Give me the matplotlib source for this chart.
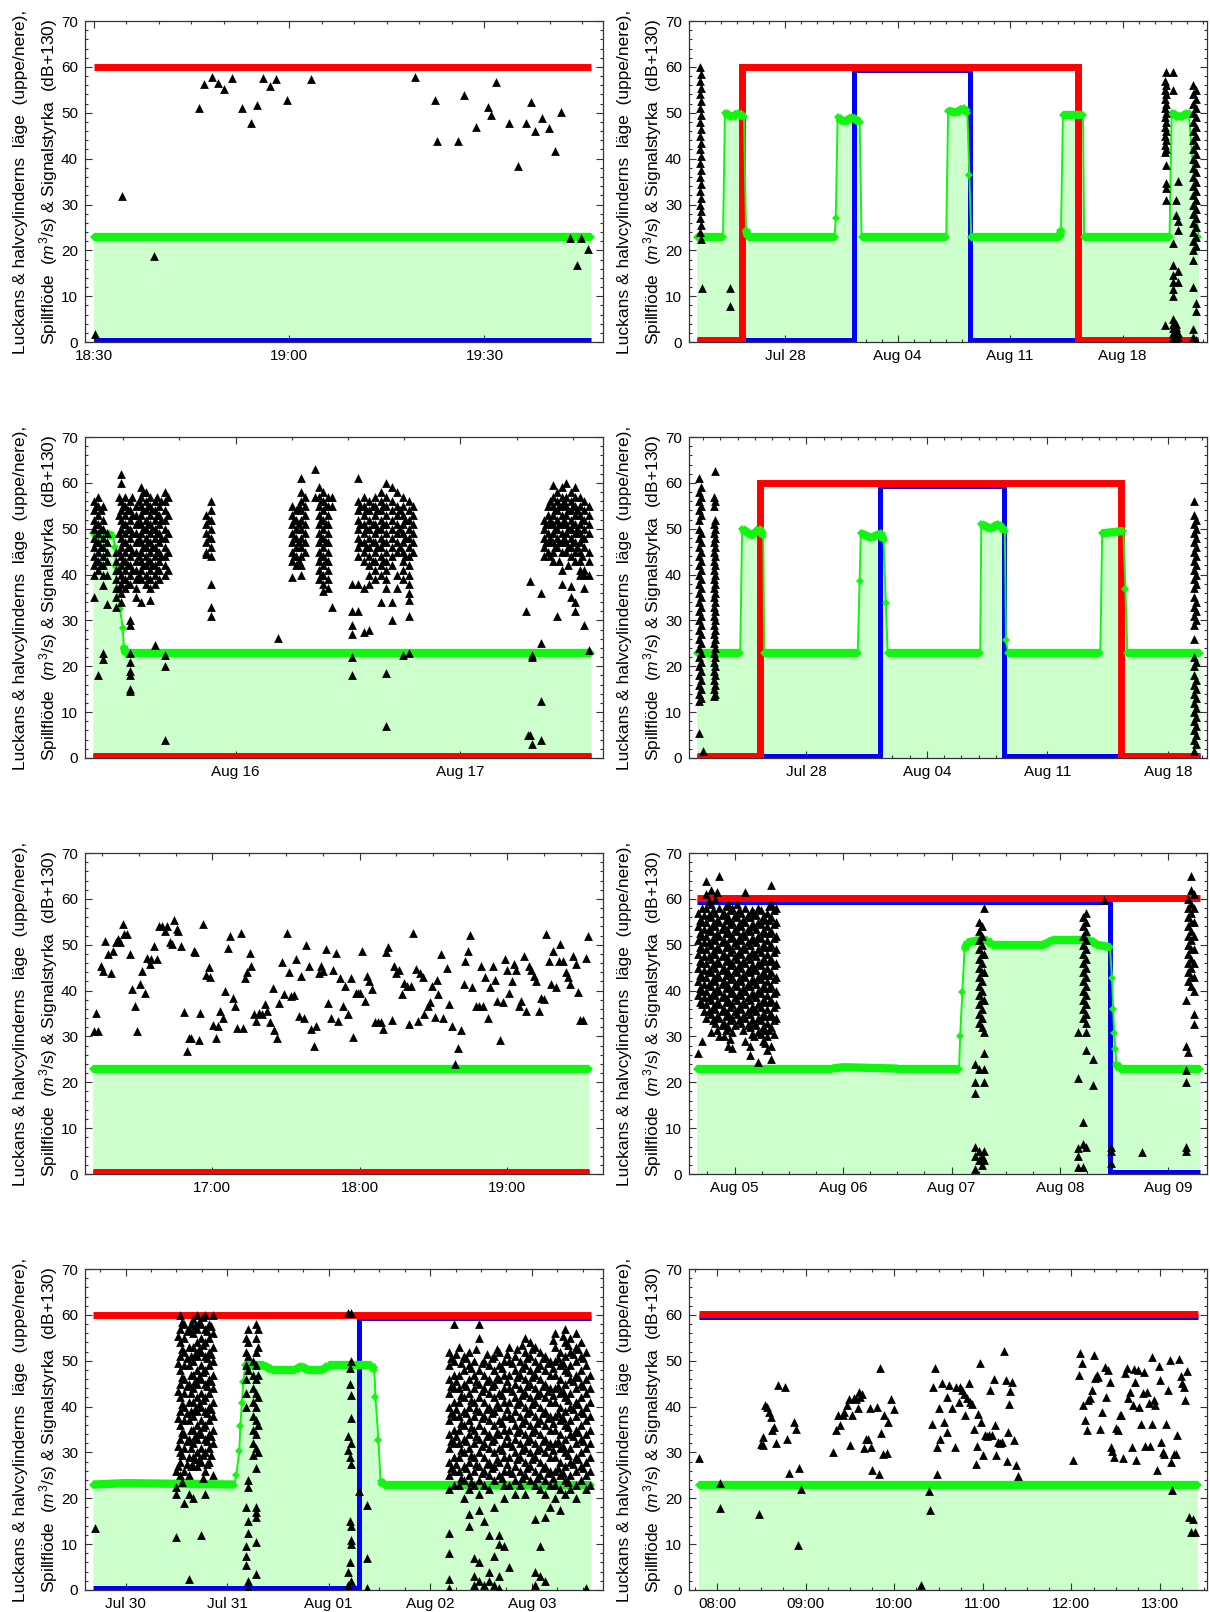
import matplotlib
matplotlib.use('Agg')
import matplotlib.pyplot as plt
from matplotlib.ticker import FixedLocator, MultipleLocator

plt.rcParams['font.family'] = ['Liberation Sans', 'DejaVu Sans']
plt.rcParams['mathtext.fontset'] = 'custom'
plt.rcParams['mathtext.rm'] = 'Liberation Sans'
plt.rcParams['mathtext.it'] = 'Liberation Sans:italic'

RED, BLUE, GREEN, FILL = '#ff0000', '#0000ff', '#11f511', '#ccffcc'
YLABEL = ('Luckans & halvcylinderns  läge  (uppe/nere),\n'
          'Spillflöde  ($m^3$/s) & Signalstyrka  (dB+130)')

# x units: time-of-day panels in minutes after the full hour of the start,
# date panels in days (Jul 28 = 28, Aug 04 = 35, ...)

# ---------------- panel 1 (18:30 - 19:48) ----------------
p1_ticks, p1_labels = [30, 60, 90], ['18:30', '19:00', '19:30']
p1_gate = ([30, 106.3], [60, 60])
p1_cyl = ([30, 106.3], [0.5, 0.5])
p1_flow = ([30, 106.3], [23, 23])
p1_sig = [(30.2, 1.7), (34.3, 31.8), (39.3, 18.8), (46.1, 51.1), (47.0, 56.2), (48.1, 57.8),
          (49.1, 56.5), (50.0, 55.2), (51.3, 57.6), (52.8, 51.0), (54.1, 47.7), (55.1, 51.8),
          (56.0, 57.6), (57.0, 55.8), (58.0, 57.3), (59.6, 52.9), (63.3, 57.3), (79.3, 57.8),
          (82.4, 52.9), (82.7, 43.8), (85.9, 43.8), (86.9, 53.9), (88.7, 46.9), (90.6, 51.3),
          (91.0, 49.6), (91.8, 56.8), (93.8, 47.8), (95.1, 38.4), (96.4, 47.8), (97.1, 52.3),
          (97.7, 46.1), (98.9, 48.8), (99.9, 46.7), (100.8, 41.6), (101.8, 50.2), (103.2, 22.7),
          (104.2, 16.8), (104.9, 22.7), (105.9, 20.4)]

# ---------------- panel 2 (Jul 22 - Aug 22) ----------------
p2_ticks, p2_labels = [28, 35, 42, 49], ['Jul 28', 'Aug 04', 'Aug 11', 'Aug 18']
p2_gate = ([22.48, 25.31, 25.31, 46.25, 46.25, 53.73], [0.5, 0.5, 60, 60, 0.5, 0.5])
p2_cyl = ([22.48, 32.27, 32.27, 39.53, 39.53, 53.73], [0.5, 0.5, 59.3, 59.3, 0.5, 0.5])
p2_flow = ([22.48, 24.12, 24.24, 24.71, 25.07, 25.43, 25.55, 25.67, 31.07, 31.14, 31.26, 31.67,
            32.15, 32.63, 32.75, 38.02, 38.14, 38.62, 39.10, 39.34, 39.46, 39.58, 45.10, 45.17,
            45.29, 46.54, 46.61, 51.93, 52.06, 52.53, 53.13, 53.73],
           [23, 23, 50, 49, 50, 49, 24.5, 23, 23, 27, 49, 48,
            49, 48, 23, 23, 50.5, 50, 51, 50, 36.5, 23, 23, 24.5,
            49.5, 49.5, 23, 23, 50, 49, 50, 23])
p2_sig_cols = [(22.66, [60, 57, 54, 51, 48, 45, 42, 39, 36, 33, 30, 27, 24]),
               (22.72, [58.5, 55.5, 52.5, 49.5, 46.5, 43.5, 40.5, 37.5, 34.5, 31.5, 28.5, 25.5, 22.5]),
               (22.80, [11.9]), (24.55, [11.9, 7.9]),
               (51.62, [57, 55, 53, 51, 49, 47, 45, 43, 41.5, 3.8]),
               (51.70, [58.9, 56, 54, 52, 50, 48, 46, 44, 42, 38.6, 34.6, 33.5, 31]),
               (52.17, [58.9, 55, 21.7, 16.9, 14.7, 13, 11.5, 10, 5, 4, 3, 2, 1, 0.5]),
               (52.30, [31, 27.8, 4, 3.2, 2.5, 1.5, 0.5]),
               (52.45, [35.2, 26.3, 24.5, 15.4, 13, 2, 1]),
               (53.40, [56, 54, 52, 50, 48, 46, 44, 42, 40, 38, 36, 34, 32, 30, 28, 26, 24, 22, 20, 18, 12, 2.8, 1]),
               (53.55, [55, 53, 51, 49, 47, 45, 43, 41, 39, 37, 35, 33, 31, 29, 27, 25, 23, 21, 8.6, 6.7, 0.5])]

# ---------------- panel 3 (Aug 15 - Aug 17) ----------------
p3_ticks, p3_labels = [47, 48], ['Aug 16', 'Aug 17']
p3_gate = ([46.365, 48.579], [0.5, 0.5])
p3_cyl = ([46.365, 48.579], [0.5, 0.5])
p3_flow = ([46.365, 46.392, 46.421, 46.455, 46.464, 46.467, 46.473, 46.486, 46.498, 46.503, 46.510, 48.579],
           [49, 48.5, 49, 48.4, 46.1, 41.7, 36.9, 32.5, 28.4, 24.3, 23, 23])
p3_sig_cols = [(46.37, [56, 54, 52, 50, 48, 46, 44, 42, 40, 35]),
               (46.38, [55, 51, 47, 43]),
               (46.39, [57, 55, 53, 51, 49, 47, 45, 43, 41, 18]),
               (46.40, [54, 50, 46, 42]),
               (46.41, [55, 52, 50, 48, 46, 44, 42, 40, 37.7, 23, 21.5]),
               (46.43, [49, 47, 45, 43, 40, 33.5]),
               (46.47, [45, 43, 41, 39, 37, 35, 33]),
               (46.48, [57, 53, 49, 45, 41, 37]),
               (46.49, [62, 60, 56, 54, 52, 50, 48, 46, 44, 42, 40, 38, 36, 34]),
               (46.50, [55, 51, 47, 43, 39]),
               (46.51, [57, 55, 53, 51, 49, 47, 45, 43, 41, 39, 37]),
               (46.52, [54, 50, 46, 42, 38]),
               (46.53, [56, 54, 52, 50, 48, 46, 44, 42, 40, 38, 30, 29, 23, 21, 19, 18, 15, 14.5]),
               (46.54, [57, 53, 49, 45, 41]),
               (46.555, [55, 53, 51, 49, 47, 45, 43, 41, 39, 37, 35]),
               (46.57, [56, 52, 48, 44, 40]),
               (46.58, [59, 57, 55, 53, 51, 49, 47, 45, 43, 41, 39, 34]),
               (46.59, [58, 54, 50, 46, 42]),
               (46.60, [58, 56, 54, 52, 50, 48, 46, 44, 42, 40, 38]),
               (46.61, [55, 51, 47, 43, 39]),
               (46.62, [57, 55, 53, 51, 49, 47, 45, 43, 41, 39, 37, 34.5]),
               (46.63, [54, 50, 46, 42]),
               (46.64, [56, 54, 52, 50, 48, 46, 44, 42, 40, 38, 24.6]),
               (46.65, [57, 53, 49, 45, 41]),
               (46.66, [55, 53, 51, 49, 47, 45, 43, 41, 39]),
               (46.67, [56, 52, 48, 44]),
               (46.685, [58, 56, 54, 52, 50, 48, 46, 44, 42, 40, 22.5, 20, 4]),
               (46.70, [57, 53, 49, 45, 41]),
               (46.87, [53, 51, 49, 47, 45, 44.5]),
               (46.88, [52, 48]),
               (46.89, [56, 54, 52, 50, 48, 46, 44, 38, 33, 31]),
               (47.19, [26.1]),
               (47.25, [55, 53, 51, 49, 47, 45, 43, 39.5]),
               (47.26, [52, 48, 44]),
               (47.27, [54, 52, 50, 48, 46, 44, 42]),
               (47.28, [55, 51, 47, 43]),
               (47.29, [61, 58, 56, 54, 52, 50, 48, 46, 44, 42, 40]),
               (47.31, [57, 55, 53, 51, 49, 47, 45]),
               (47.355, [63, 57]),
               (47.37, [59, 57, 55, 53, 51, 49, 47, 45, 43, 41, 39]),
               (47.38, [56, 52, 48, 44, 40]),
               (47.39, [58, 56, 54, 52, 50, 48, 46, 44, 42, 40, 38, 36.5]),
               (47.40, [55, 51, 47, 43]),
               (47.41, [57, 55, 53, 51, 49, 47, 45, 43, 41, 39, 37]),
               (47.43, [57, 55, 33]),
               (47.52, [38, 32, 29, 27, 22, 18]),
               (47.545, [61, 56, 54, 52, 50, 48, 46, 44, 38, 32]),
               (47.555, [55, 51, 47]),
               (47.57, [57, 55, 53, 51, 49, 47, 45, 43, 37, 27.5]),
               (47.58, [54, 50, 46]),
               (47.595, [56, 54, 52, 50, 48, 46, 44, 42, 40, 38, 28]),
               (47.61, [55, 51, 47, 43]),
               (47.62, [57, 55, 53, 51, 49, 47, 45, 43, 41, 39]),
               (47.63, [54, 50, 46]),
               (47.645, [58, 56, 54, 52, 50, 48, 46, 44, 42, 40, 34]),
               (47.655, [55, 51, 47, 43]),
               (47.67, [60, 57, 55, 53, 51, 49, 47, 45, 43, 41, 39, 37, 18.5, 7]),
               (47.695, [59, 56, 54, 52, 50, 48, 46, 44, 42, 34, 30]),
               (47.72, [58, 55, 53, 51, 49, 47, 45, 40, 37]),
               (47.73, [54, 50, 46]),
               (47.745, [57, 55, 53, 51, 49, 47, 45, 43, 41, 39, 22.5]),
               (47.755, [52, 48, 44]),
               (47.77, [56, 54, 52, 50, 48, 46, 44, 42, 40, 38, 36, 34.5, 31, 23]),
               (47.79, [55, 53, 51, 49, 47, 45]),
               (48.29, [32]), (48.30, [5]), (48.31, [38.7, 5]), (48.32, [22.5, 22, 3]),
               (48.36, [4, 12.5, 25, 36]),
               (48.37, [52, 50, 48, 46, 44]),
               (48.38, [51, 47]),
               (48.39, [55, 53, 51, 49, 47, 45]),
               (48.40, [56, 52, 48, 44]),
               (48.41, [59.5, 57, 55, 53, 51, 49, 47, 45, 43]),
               (48.42, [54, 50, 46]),
               (48.43, [58, 56, 54, 52, 50, 48, 46, 31]),
               (48.44, [55, 51, 47, 43]),
               (48.45, [59, 57, 55, 53, 51, 49, 47, 45, 41, 38]),
               (48.46, [56, 52, 48]),
               (48.47, [60, 57, 55, 53, 51, 49, 47, 45]),
               (48.48, [54, 50, 46, 42]),
               (48.49, [58, 56, 54, 52, 50, 48, 46, 44, 37.5, 35]),
               (48.50, [55, 51, 47]),
               (48.51, [59, 57, 55, 53, 51, 49, 47, 45, 43, 34, 32]),
               (48.52, [54, 50, 46]),
               (48.53, [57, 55, 53, 51, 49, 47, 45, 43, 41, 40]),
               (48.54, [52, 48, 44]),
               (48.55, [56, 54, 52, 50, 48, 46, 41, 40, 37, 29]),
               (48.57, [55, 53, 51, 49, 45, 43, 40, 23.5])]

# ---------------- panel 4 (Jul 21 - Aug 20) ----------------
p4_ticks, p4_labels = [28, 35, 42, 49], ['Jul 28', 'Aug 04', 'Aug 11', 'Aug 18']
p4_gate = ([21.62, 25.27, 25.27, 46.31, 46.31, 50.90], [0.5, 0.5, 60, 60, 0.5, 0.5])
p4_cyl = ([21.62, 32.25, 32.25, 39.48, 39.48, 50.90], [0.5, 0.5, 59.3, 59.3, 0.5, 0.5])
p4_flow = ([21.62, 24.15, 24.26, 24.82, 25.27, 25.49, 25.54, 30.98, 31.09, 31.16, 31.76, 32.32,
            32.48, 32.61, 32.72, 38.10, 38.16, 38.70, 39.15, 39.53, 39.60, 39.71, 45.08, 45.19,
            46.42, 46.54, 46.65, 50.90],
           [23, 23, 50, 48.5, 50, 48.5, 23, 23, 38.7, 49, 48, 49,
            47.5, 33.9, 23, 23, 51, 50, 51, 49.5, 25.7, 23, 23, 49,
            49.5, 36.8, 23, 23])
p4_sig_cols = [(21.75, [61, 58, 56, 54, 52, 50, 48, 46, 44, 42, 40, 38, 36, 34, 32, 30, 28, 26, 24, 22, 20, 18, 16, 14, 12.5, 5.5]),
               (21.85, [59, 57, 55, 53, 49, 47, 45, 43, 41, 39, 37, 35, 33, 31, 29, 27, 25, 23, 21, 19, 17, 15, 13]),
               (22.0, [1.5]),
               (22.6, [57, 55, 51, 49, 47, 45, 43, 41, 39, 37, 35, 33, 31, 29, 27, 25, 23, 21, 19, 17, 15, 13.5]),
               (22.7, [62.5, 56, 52, 50, 48, 46, 44, 42, 40, 38, 36, 34, 32, 30, 28, 26, 24, 22, 20, 18, 16, 14]),
               (50.55, [56, 53, 51, 49, 47, 45, 43, 41, 39, 37, 35, 33, 31, 29, 26, 22, 20, 18, 16, 14, 12, 10, 8, 6, 4, 1.5]),
               (50.62, [52, 50, 48, 46, 44, 42, 40, 38, 34, 32, 30, 21, 17, 15, 13, 11, 9, 7, 5, 3])]

# ---------------- panel 5 (16:08 - 19:39) ----------------
p5_ticks, p5_labels = [60, 120, 180], ['17:00', '18:00', '19:00']
p5_gate = ([11.2, 213.3], [0.5, 0.5])
p5_cyl = ([11.2, 213.3], [0.5, 0.5])
p5_flow = ([11.2, 213.3], [23, 23])
p5_sig = [(11.7, 31.2), (12.8, 35.2), (13.6, 31.2), (14.8, 45.4), (15.3, 44.3), (16.4, 50.8),
          (17.5, 47.9), (18.7, 43.9), (19.5, 48.6), (20.8, 50.5), (21.6, 51.2), (22.3, 50.5),
          (23.4, 54.6), (24.2, 52.3), (25.3, 52.3), (26.3, 47.9), (27.4, 40.3), (28.3, 36.6),
          (29.4, 31.3), (30.5, 41.4), (31.4, 44.3), (32.4, 39.5), (33.3, 47.2), (34.4, 45.7),
          (35.2, 46.8), (36.3, 49.7), (37.4, 46.8), (38.3, 54.1), (39.6, 54.1), (40.7, 53.0),
          (41.5, 54.1), (42.6, 50.5), (43.5, 50.1), (44.3, 55.5), (45.4, 53.5), (46.2, 53.0),
          (47.1, 49.7), (48.5, 35.3), (49.5, 26.8), (50.4, 29.7), (51.2, 29.7), (52.5, 48.6),
          (52.9, 48.4), (54.5, 29.2), (55.1, 35.2), (56.2, 54.5), (57.6, 43.5), (58.7, 45.1),
          (59.2, 43.0), (60.2, 32.5), (61.4, 29.7), (62.2, 32.3), (63.3, 35.5), (64.2, 34.1),
          (65.3, 39.9), (66.3, 49.4), (67.2, 51.9), (68.3, 38.4), (69.1, 36.6), (70.0, 31.9),
          (71.5, 52.5), (72.4, 31.9), (73.2, 42.8), (74.0, 44.1), (75.2, 48.1), (75.7, 45.4),
          (76.8, 34.8), (77.9, 33.3), (79.1, 35.2), (80.2, 34.8), (81.3, 37.0), (82.3, 35.5),
          (83.4, 33.1), (84.5, 40.5), (85.3, 31.5), (86.2, 29.7), (87.3, 37.3), (88.2, 46.2),
          (89.3, 39.2), (90.3, 52.6), (91.1, 44.0), (92.2, 38.8), (93.3, 39.0), (94.2, 47.0),
          (95.3, 34.4), (96.2, 43.2), (97.3, 34.1), (98.3, 49.9), (99.5, 45.4), (100.3, 31.7),
          (101.3, 27.9), (102.2, 32.3), (103.5, 43.9), (104.2, 45.4), (105.2, 44.3), (106.3, 49.0),
          (107.2, 37.3), (108.2, 34.1), (109.3, 44.6), (110.2, 48.1), (111.1, 33.3), (112.1, 42.7),
          (113.2, 36.6), (114.1, 41.1), (115.2, 35.0), (116.3, 42.8), (117.3, 29.9), (118.4, 39.5),
          (119.2, 39.5), (120.3, 39.5), (121.0, 48.6), (122.1, 37.7), (122.9, 43.2), (123.9, 42.1),
          (125.0, 40.4), (126.2, 33.1), (127.3, 33.1), (128.6, 33.1), (129.7, 31.7), (130.8, 48.5),
          (131.7, 49.6), (133.0, 33.5), (134.1, 45.4), (135.0, 43.8), (135.9, 44.6), (137.2, 39.2),
          (138.0, 41.6), (139.1, 41.0), (140.0, 32.8), (141.1, 41.0), (141.9, 52.5), (142.8, 44.8),
          (143.9, 33.3), (144.7, 43.9), (145.8, 43.0), (146.4, 34.8), (147.9, 36.6), (148.5, 37.6),
          (149.6, 41.0), (150.7, 34.3), (151.5, 42.4), (152.1, 39.2), (153.0, 47.9), (154.1, 34.1),
          (155.4, 45.0), (156.2, 37.0), (157.6, 32.3), (158.8, 23.9), (160.1, 27.4), (161.2, 31.5),
          (162.3, 41.4), (163.1, 46.4), (164.2, 48.6), (165.1, 52.1), (165.9, 40.8), (167.3, 36.6),
          (168.6, 36.6), (169.5, 45.4), (170.1, 36.6), (171.1, 43.0), (172.2, 34.1), (173.0, 40.8),
          (174.2, 45.4), (175.3, 42.4), (176.1, 37.7), (177.0, 29.2), (178.3, 37.6), (179.1, 46.8),
          (180.2, 44.6), (180.8, 39.5), (181.9, 42.1), (182.7, 45.7), (183.6, 44.6), (184.9, 36.6),
          (185.8, 37.7), (186.8, 47.5), (187.9, 35.5), (189.0, 45.4), (189.9, 44.6), (191.0, 43.2),
          (191.8, 42.1), (193.0, 35.5), (194.0, 38.4), (194.9, 38.1), (195.9, 52.4), (197.1, 46.4),
          (197.9, 41.4), (198.9, 48.6), (200.0, 40.8), (201.1, 46.4), (201.8, 50.1), (202.8, 46.4),
          (203.9, 44.0), (204.7, 43.0), (205.6, 41.4), (206.9, 47.5), (208.1, 45.7), (208.9, 39.8),
          (209.8, 33.6), (210.9, 33.6), (212.0, 47.2), (213.0, 51.9)]

# ---------------- panel 6 (Aug 04 - Aug 09) ----------------
p6_ticks, p6_labels = [36, 37, 38, 39, 40], ['Aug 05', 'Aug 06', 'Aug 07', 'Aug 08', 'Aug 09']
p6_gate = ([35.65, 40.29], [60.2, 60.2])
p6_cyl = ([35.65, 39.465, 39.465, 40.29], [59.4, 59.4, 0.5, 0.5])
p6_flow = ([35.65, 36.9, 37.0, 37.5, 38.07, 38.08, 38.10, 38.12, 38.15, 38.25, 38.33, 38.37,
            38.85, 38.93, 39.28, 39.34, 39.46, 39.48, 39.49, 39.50, 39.51, 39.52, 39.55, 40.29],
           [23, 23, 23.3, 23, 23, 30.2, 39.6, 49, 50.5, 51, 51, 50,
            50, 51, 51, 50, 49.5, 42.7, 36, 30.7, 27.3, 24, 23, 23])
p6_sig_cols = [(35.66, [57, 54, 51, 48, 45, 42, 39, 26.5]),
               (35.68, [55.5, 52.5, 49.5, 46.5, 43.5, 40.5, 37.5]),
               (35.70, [58, 55, 52, 49, 46, 43, 40, 37, 29]),
               (35.72, [56.5, 53.5, 50.5, 47.5, 44.5, 41.5, 38.5, 35.5]),
               (35.74, [64, 61, 58, 55, 52, 49, 46, 43, 40, 37, 34]),
               (35.76, [59.5, 56.5, 53.5, 50.5, 47.5, 44.5, 41.5, 38.5, 35.5]),
               (35.78, [62, 59, 56, 53, 50, 47, 44, 41, 38, 35, 31]),
               (35.80, [57.5, 54.5, 51.5, 48.5, 45.5, 42.5, 39.5, 36.5, 33.5]),
               (35.82, [60, 57, 54, 51, 48, 45, 42, 39, 36, 33]),
               (35.84, [61.5, 55.5, 52.5, 49.5, 46.5, 43.5, 40.5, 37.5, 34.5, 31.5]),
               (35.86, [65, 58, 55, 52, 49, 46, 43, 40, 37, 34, 30]),
               (35.88, [56.5, 53.5, 50.5, 47.5, 44.5, 41.5, 38.5, 35.5, 32.5]),
               (35.90, [57, 54, 51, 48, 45, 42, 39, 36, 33, 30]),
               (35.92, [58.5, 55.5, 52.5, 49.5, 46.5, 43.5, 40.5, 37.5, 34.5, 31.5]),
               (35.94, [59, 56, 53, 50, 47, 44, 41, 38, 35, 32, 28]),
               (35.96, [57.5, 54.5, 51.5, 48.5, 45.5, 42.5, 39.5, 36.5, 33.5, 29.5]),
               (35.98, [58, 55, 52, 49, 46, 43, 40, 37, 34, 31, 27.5]),
               (36.00, [56.5, 53.5, 50.5, 47.5, 44.5, 41.5, 38.5, 35.5, 32.5]),
               (36.02, [59, 56, 53, 50, 47, 44, 41, 38, 35]),
               (36.04, [57.5, 54.5, 51.5, 48.5, 45.5, 42.5, 39.5, 36.5, 33.5]),
               (36.06, [57, 54, 51, 48, 45, 42, 39, 36, 33]),
               (36.08, [55.5, 52.5, 49.5, 46.5, 43.5, 40.5, 37.5, 34.5, 31.5]),
               (36.10, [61.5, 58, 55, 52, 49, 46, 43, 40, 37, 34, 29]),
               (36.12, [56.5, 53.5, 50.5, 47.5, 44.5, 41.5, 38.5, 35.5, 32.5]),
               (36.14, [56, 53, 50, 47, 44, 41, 38, 35, 32, 28, 26]),
               (36.16, [57.5, 54.5, 51.5, 48.5, 45.5, 42.5, 39.5, 36.5, 33.5, 30.5]),
               (36.18, [57, 54, 51, 48, 45, 42, 39, 36, 33, 30]),
               (36.20, [56.5, 53.5, 50.5, 47.5, 44.5, 41.5, 38.5, 35.5, 32.5]),
               (36.22, [58, 55, 52, 49, 46, 43, 40, 37, 34, 31, 24.5]),
               (36.24, [57.5, 54.5, 51.5, 48.5, 45.5, 42.5, 39.5, 36.5, 33.5, 30.5]),
               (36.26, [56, 53, 50, 47, 44, 41, 38, 35, 32, 29]),
               (36.28, [55.5, 52.5, 49.5, 46.5, 43.5, 40.5, 37.5, 34.5, 31.5, 28.5]),
               (36.30, [57, 54, 51, 48, 45, 42, 39, 36, 33, 30, 27]),
               (36.32, [58.5, 55.5, 52.5, 49.5, 46.5, 43.5, 40.5, 37.5, 34.5, 31.5]),
               (36.34, [63, 59, 56, 53, 50, 47, 44, 41, 38, 35, 32, 28, 25]),
               (36.36, [57.5, 54.5, 51.5, 48.5, 45.5, 42.5, 39.5, 36.5, 33.5, 30.5]),
               (36.38, [58, 55, 52, 49, 46, 43, 40, 37, 34]),
               (38.22, [24, 20, 17.7, 6, 4, 1]),
               (38.25, [55, 53, 51, 49, 47, 45, 43, 41, 39, 37, 35, 33, 23, 5, 3]),
               (38.28, [54, 52, 50, 48, 46, 44, 42, 40, 38, 36, 34, 32, 4, 2]),
               (38.30, [58, 48, 44, 38, 31, 26.5, 23, 20, 5, 3]),
               (39.17, [31, 21, 5.6, 4, 1.5]),
               (39.21, [56, 54, 52, 50, 48, 46, 44, 42, 40, 38, 36, 34, 11.3, 6.5, 1.5]),
               (39.24, [57, 55, 53, 51, 49, 47, 45, 43, 41, 39, 37, 35, 33, 31, 27, 6]),
               (39.30, [25, 19.5]), (39.41, [59.7]), (39.47, [6, 5, 2.5]), (39.76, [4.8]),
               (40.16, [38, 28, 22.6, 20, 6, 5]),
               (40.18, [60, 58, 56, 54, 52, 50, 48, 46, 44, 42, 26.7]),
               (40.21, [65, 62, 59, 57, 55, 53, 51, 49, 47, 45, 43, 41]),
               (40.24, [61, 58, 55, 52, 49, 46, 43, 40, 34.8, 32.7])]

# ---------------- panel 7 (Jul 29 - Aug 03) ----------------
p7_ticks, p7_labels = [30, 31, 32, 33, 34], ['Jul 30', 'Jul 31', 'Aug 01', 'Aug 02', 'Aug 03']
p7_gate = ([29.68, 34.58], [60, 60])
p7_cyl = ([29.68, 32.295, 32.295, 34.58], [0.5, 0.5, 59.3, 59.3])
p7_flow = ([29.68, 30.0, 31.07, 31.09, 31.12, 31.13, 31.145, 31.16, 31.18, 31.36, 31.44, 31.67,
            31.73, 31.79, 31.94, 32.00, 32.42, 32.45, 32.46, 32.49, 32.51, 32.54, 34.58],
           [23, 23.3, 23, 25.1, 30.4, 35.8, 40.7, 45.3, 49, 49, 48, 48,
            48.8, 48, 48, 49, 49, 48, 42.2, 32.7, 23.8, 23, 23])
p7_sig_cols = [(29.70, [13.6]),
               (30.50, [26, 22.5, 21, 11.5]),
               (30.52, [55.5, 49.5, 43.5, 37.5, 31.5, 27]),
               (30.54, [60, 57, 54, 51, 48, 45, 42, 39, 36, 33, 30, 28, 25]),
               (30.56, [58.5, 52.5, 46.5, 40.5, 34.5, 29.5, 23.5]),
               (30.58, [58, 55, 52, 49, 46, 43, 40, 37, 34, 31, 26, 19]),
               (30.60, [56.5, 50.5, 44.5, 38.5, 32.5, 27.5]),
               (30.62, [57, 53, 49, 45, 41, 37, 33, 29, 25, 21, 2.5]),
               (30.64, [58, 51, 47, 43, 39, 35, 31, 27]),
               (30.66, [59, 56, 53, 50, 47, 44, 41, 38, 35, 32, 29, 27, 20]),
               (30.68, [57.5, 51.5, 45.5, 39.5, 33.5, 28.5]),
               (30.70, [60, 57, 54, 51, 48, 45, 42, 39, 36, 33, 30, 27]),
               (30.72, [58.5, 52.5, 46.5, 40.5, 34.5, 28.5]),
               (30.74, [58, 55, 52, 49, 46, 43, 40, 37, 34, 31, 28, 12]),
               (30.76, [59.5, 53.5, 47.5, 41.5, 35.5, 29.5, 24.5]),
               (30.78, [60, 57, 54, 51, 48, 45, 42, 39, 36, 33, 30, 26, 21]),
               (30.80, [56.5, 50.5, 44.5, 38.5, 32.5, 27.5]),
               (30.82, [58, 55, 52, 49, 46, 43, 40, 37, 34, 31, 28]),
               (30.84, [57.5, 51.5, 45.5, 39.5, 33.5, 29.5]),
               (30.86, [60, 56, 53, 50, 47, 44, 41, 38, 35, 32, 25]),
               (31.19, [55, 52, 49, 46, 43, 40, 18, 9.5, 7.5, 5.5]),
               (31.21, [57, 54, 51, 48, 24, 22.5, 15, 12.5, 2, 0.5]),
               (31.25, [50, 47, 44, 41, 38, 35, 32, 29.5]),
               (31.28, [58, 55, 52, 49, 46, 43, 40, 37, 34, 31, 26.5, 18, 17, 16, 10.5, 3.5]),
               (31.30, [57, 53, 47, 42, 36, 30]),
               (32.19, [60.5, 33.5, 30.5, 4, 1]),
               (32.21, [48.5, 45, 29, 15, 6]),
               (32.22, [60.5, 50, 42.5, 37.5, 32, 27.5, 14, 11, 10, 2]),
               (32.30, [21.7]), (32.38, [18.5, 7, 0.5]),
               (33.18, [52, 49, 46, 43, 40, 37, 34, 31, 28, 25, 22, 12.5, 8, 2.5, 0.5]),
               (33.205, [50.5, 44.5, 38.5, 32.5, 26.5]),
               (33.23, [58, 50, 47, 44, 41, 38, 35, 32, 29, 26, 23]),
               (33.255, [51.5, 45.5, 39.5, 33.5, 27.5]),
               (33.28, [53, 47, 44, 41, 38, 35, 32, 29, 26, 23]),
               (33.305, [49.5, 42.5, 36.5, 30.5, 24.5]),
               (33.33, [51, 48, 45, 42, 39, 36, 33, 30, 27, 24, 20]),
               (33.355, [50.5, 44.5, 38.5, 32.5, 26.5]),
               (33.38, [52, 49, 46, 43, 40, 37, 34, 31, 28, 25, 22, 16.5, 14]),
               (33.405, [48.5, 41.5, 35.5, 29.5, 23.5]),
               (33.43, [50, 47, 44, 41, 38, 35, 32, 29, 26, 23, 7, 3, 1]),
               (33.455, [52.5, 45.5, 39.5, 33.5, 27.5]),
               (33.48, [58, 55, 48, 45, 42, 39, 36, 33, 30, 27, 24, 21, 17.5, 6, 2]),
               (33.505, [49.5, 43.5, 37.5, 31.5, 25.5]),
               (33.53, [50, 47, 44, 41, 38, 35, 32, 29, 26, 23, 15, 1]),
               (33.555, [51.5, 45.5, 39.5, 33.5, 27.5]),
               (33.58, [49, 46, 43, 40, 37, 34, 31, 28, 25, 22, 12, 4, 2]),
               (33.605, [50.5, 44.5, 38.5, 32.5, 26.5]),
               (33.63, [51, 48, 45, 42, 39, 36, 33, 30, 27, 24, 18, 7.5, 1]),
               (33.655, [52.5, 46.5, 40.5, 34.5, 28.5]),
               (33.68, [52, 49, 46, 43, 40, 37, 34, 31, 28, 25, 12, 10, 3, 0.5]),
               (33.705, [48.5, 42.5, 36.5, 30.5, 24.5]),
               (33.73, [50, 47, 44, 41, 38, 35, 32, 29, 26, 23, 20, 9.5]),
               (33.755, [51.5, 45.5, 39.5, 33.5, 27.5]),
               (33.78, [53, 50, 47, 44, 41, 38, 35, 32, 29, 26, 23, 5]),
               (33.805, [49.5, 43.5, 37.5, 31.5, 25.5]),
               (33.83, [51, 48, 45, 42, 39, 36, 33, 30, 27, 24, 21]),
               (33.855, [52.5, 46.5, 40.5, 34.5, 28.5]),
               (33.88, [50, 47, 44, 41, 38, 35, 32, 29, 26, 23]),
               (33.905, [53.5, 48.5, 42.5, 36.5, 30.5, 24.5]),
               (33.93, [55, 52, 49, 46, 43, 40, 37, 34, 31, 28, 25, 21]),
               (33.955, [50.5, 44.5, 38.5, 32.5, 26.5]),
               (33.98, [54, 51, 48, 45, 42, 39, 36, 33, 30, 27, 24]),
               (34.005, [52.5, 46.5, 40.5, 34.5, 28.5]),
               (34.03, [53, 50, 47, 44, 41, 38, 35, 32, 29, 26, 23, 15.5, 4, 1]),
               (34.055, [48.5, 42.5, 36.5, 30.5, 24.5]),
               (34.08, [52, 49, 46, 43, 40, 37, 34, 31, 28, 25, 22, 9.5, 3]),
               (34.105, [50.5, 44.5, 38.5, 32.5, 26.5]),
               (34.13, [51, 48, 45, 42, 39, 36, 33, 30, 27, 24, 21, 16, 2]),
               (34.155, [49.5, 43.5, 37.5, 31.5, 25.5]),
               (34.18, [50, 47, 44, 41, 38, 35, 32, 29, 26, 23, 18]),
               (34.205, [54.5, 48.5, 42.5, 36.5, 30.5, 24.5]),
               (34.23, [56, 53, 50, 47, 44, 41, 38, 35, 32, 29, 26, 23, 20]),
               (34.255, [50.5, 44.5, 38.5, 32.5, 26.5]),
               (34.28, [52, 49, 46, 43, 40, 37, 34, 31, 28, 25, 22, 17.5]),
               (34.305, [55.5, 49.5, 43.5, 37.5, 31.5, 25.5]),
               (34.33, [57, 54, 51, 48, 45, 42, 39, 36, 33, 30, 27, 24, 21]),
               (34.355, [53.5, 47.5, 41.5, 35.5, 29.5, 23.5]),
               (34.38, [55, 52, 49, 46, 43, 40, 37, 34, 31, 28, 25, 22]),
               (34.405, [51.5, 45.5, 39.5, 33.5, 27.5]),
               (34.43, [56, 53, 50, 47, 44, 41, 38, 35, 32, 29, 26, 23, 20]),
               (34.455, [52.5, 46.5, 40.5, 34.5, 28.5]),
               (34.48, [54, 51, 48, 45, 42, 39, 36, 33, 30, 27, 24]),
               (34.505, [50.5, 44.5, 38.5, 32.5, 26.5]),
               (34.53, [52, 49, 46, 43, 40, 37, 34, 31, 28, 25, 22, 0.5]),
               (34.57, [47, 44, 41, 38, 35, 32, 29, 26, 23])]

# ---------------- panel 8 (07:41 - 13:32) ----------------
p8_ticks = [60, 120, 180, 240, 300, 360]
p8_labels = ['08:00', '09:00', '10:00', '11:00', '12:00', '13:00']
p8_gate = ([47.5, 386], [60.2, 60.2])
p8_cyl = ([47.5, 386], [59.6, 59.6])
p8_flow = ([47.5, 386], [23, 23])
p8_sig = [(47.5, 28.8), (61.8, 23.4), (61.8, 17.9), (88.2, 16.5), (89.5, 31.9), (90.8, 33.3),
          (91.3, 31.7), (92.6, 40.4), (93.9, 40.0), (95.2, 38.9), (96.5, 37.7), (97.0, 34.9),
          (98.6, 35.5), (99.7, 32.0), (101.2, 44.8), (105.7, 44.3), (107.5, 33.0), (108.5, 25.5),
          (112.2, 36.6), (113.5, 35.2), (115.3, 26.6), (116.6, 22.1), (114.5, 9.9), (138.8, 30.1),
          (140.9, 34.8), (142.2, 38.1), (143.5, 35.9), (145.1, 38.2), (146.1, 38.8), (148.2, 40.3),
          (149.5, 41.6), (150.3, 31.7), (151.3, 38.2), (152.6, 41.9), (153.9, 41.6), (155.2, 39.7),
          (156.0, 43.2), (157.1, 42.1), (158.4, 42.8), (159.7, 30.9), (161.2, 33.0), (162.5, 33.0),
          (163.8, 39.7), (164.4, 31.2), (165.1, 26.1), (168.3, 39.9), (169.6, 25.3), (171.1, 34.3),
          (172.2, 29.7), (173.2, 38.1), (174.8, 29.9), (176.1, 36.6), (170.4, 48.5), (177.7, 41.7),
          (180.0, 39.4), (197.8, 1.1), (203.5, 21.5), (204.3, 17.5), (205.3, 36.3), (206.4, 44.3),
          (207.7, 48.5), (208.7, 31.2), (209.2, 25.3), (210.0, 39.7), (211.3, 33.0), (212.6, 45.1),
          (213.9, 36.6), (215.5, 42.1), (216.0, 34.4), (217.3, 44.8), (219.1, 39.7), (221.0, 31.2),
          (222.0, 44.3), (223.6, 41.0), (224.4, 44.3), (225.7, 43.7), (227.0, 42.8), (228.0, 38.1),
          (229.1, 41.9), (230.4, 45.2), (231.4, 41.0), (233.0, 40.6), (234.3, 35.2), (235.3, 27.5),
          (235.8, 31.4), (236.9, 38.4), (237.9, 49.4), (239.0, 36.6), (240.3, 29.5), (241.6, 33.7),
          (242.6, 33.5), (243.9, 33.7), (245.0, 43.7), (246.5, 33.7), (247.3, 46.1), (248.1, 36.0),
          (249.2, 29.5), (250.5, 32.3), (251.8, 32.0), (253.1, 32.3), (254.1, 52.1), (255.4, 45.7),
          (256.5, 28.1), (257.2, 34.4), (257.8, 40.6), (258.5, 43.5), (259.6, 45.4), (260.9, 32.8),
          (262.2, 27.2), (263.5, 24.8), (301.3, 28.4), (305.0, 47.0), (306.0, 51.7), (307.1, 49.4),
          (307.9, 40.4), (309.2, 37.0), (310.5, 34.9), (311.2, 41.4), (312.3, 41.9), (313.9, 43.7),
          (315.2, 51.2), (316.2, 46.2), (317.0, 46.8), (318.3, 46.4), (319.6, 35.2), (320.9, 38.9),
          (322.5, 48.6), (323.5, 42.1), (325.1, 47.9), (326.1, 45.4), (326.6, 31.2), (327.7, 30.4),
          (328.7, 29.0), (330.0, 35.3), (331.3, 35.0), (332.9, 38.2), (333.9, 38.1), (335.2, 28.8),
          (336.3, 47.3), (337.8, 48.4), (338.6, 41.9), (339.7, 43.2), (340.7, 31.2), (341.8, 40.4),
          (342.6, 48.1), (343.3, 45.4), (343.9, 28.4), (344.9, 47.9), (346.0, 39.9), (347.0, 36.3),
          (348.3, 43.0), (349.1, 47.5), (350.1, 31.3), (350.9, 43.2), (352.2, 40.8), (353.3, 31.3),
          (354.3, 36.3), (354.8, 50.8), (356.1, 41.4), (356.9, 40.3), (357.9, 26.1), (359.0, 48.8),
          (360.0, 45.9), (360.8, 32.3), (362.1, 30.1), (362.6, 29.7), (363.9, 36.1), (365.3, 43.7),
          (366.6, 50.1), (367.3, 28.0), (367.9, 21.9), (369.2, 29.7), (370.5, 29.7), (371.8, 33.9),
          (373.1, 50.3), (373.9, 46.6), (374.9, 45.2), (376.2, 44.3), (377.0, 41.5), (378.3, 47.7),
          (379.6, 16.0), (380.9, 12.6), (382.2, 15.4), (384.0, 12.6)]


def from_cols(cols):
    xs, ys = [], []
    for x, vals in cols:
        xs += [x] * len(vals)
        ys += vals
    return xs, ys


def from_pairs(pairs):
    return [p[0] for p in pairs], [p[1] for p in pairs]


def draw(ax, gate, cyl, flow, sig, xlim, ticks, labels, minor):
    fx, fy = flow
    ax.fill_between(fx, fy, 0, color=FILL, lw=0, zorder=1)
    ax.plot(cyl[0], cyl[1], color=BLUE, lw=3.6, zorder=2, solid_joinstyle='miter', solid_capstyle='butt')
    ax.plot(gate[0], gate[1], color=RED, lw=5, zorder=3, solid_joinstyle='miter', solid_capstyle='butt')
    ax.plot(fx, fy, color=GREEN, lw=1.4, marker='D', ms=4.3, mew=0, zorder=4)
    # plateaus look like a solid band of overlapping diamonds
    for i in range(len(fx) - 1):
        if abs(fy[i + 1] - fy[i]) < 2:
            ax.plot(fx[i:i + 2], fy[i:i + 2], color=GREEN, lw=6, solid_capstyle='butt', zorder=4)
    sx, sy = sig
    ax.scatter(sx, sy, marker='^', s=40, c='black', lw=0, zorder=5)

    ax.set_xlim(*xlim)
    ax.set_ylim(0, 70)
    ax.xaxis.set_major_locator(FixedLocator(ticks))
    ax.set_xticklabels(labels)
    ax.xaxis.set_minor_locator(MultipleLocator(minor))
    ax.yaxis.set_major_locator(MultipleLocator(10))
    ax.yaxis.set_minor_locator(MultipleLocator(2))
    ax.tick_params(which='both', direction='in', top=True, right=True, width=0.8, color='#333333')
    ax.tick_params(which='major', length=5, labelsize=11, pad=5)
    ax.tick_params(which='minor', length=2.5)
    for s in ax.spines.values():
        s.set_linewidth(0.9)
        s.set_color('#333333')
    ax.set_ylabel(YLABEL, fontsize=12.5, linespacing=1.5)
    ax.yaxis.set_label_coords(-0.049, 0.5)


fig = plt.figure(figsize=(12.1, 16.12), dpi=100)
lefts = [0.0702, 0.5694]
bottoms = [0.7878, 0.5298, 0.2717, 0.01365]
w, h = 0.4281, 0.1991

panels = [
    (p1_gate, p1_cyl, p1_flow, from_pairs(p1_sig), (28.64, 108.2), p1_ticks, p1_labels, 5),
    (p2_gate, p2_cyl, p2_flow, from_cols(p2_sig_cols), (22.0, 54.26), p2_ticks, p2_labels, 1),
    (p3_gate, p3_cyl, p3_flow, from_cols(p3_sig_cols), (46.33, 48.634), p3_ticks, p3_labels, 0.25),
    (p4_gate, p4_cyl, p4_flow, from_cols(p4_sig_cols), (21.17, 51.28), p4_ticks, p4_labels, 1),
    (p5_gate, p5_cyl, p5_flow, from_pairs(p5_sig), (8.1, 219.1), p5_ticks, p5_labels, 15),
    (p6_gate, p6_cyl, p6_flow, from_cols(p6_sig_cols), (35.58, 40.355), p6_ticks, p6_labels, 0.25),
    (p7_gate, p7_cyl, p7_flow, from_cols(p7_sig_cols), (29.60, 34.70), p7_ticks, p7_labels, 0.25),
    (p8_gate, p8_cyl, p8_flow, from_pairs(p8_sig), (41.0, 391.8), p8_ticks, p8_labels, 15),
]

for i, args in enumerate(panels):
    ax = fig.add_axes([lefts[i % 2], bottoms[i // 2], w, h])
    draw(ax, *args)

fig.savefig('out.png', dpi=100)
